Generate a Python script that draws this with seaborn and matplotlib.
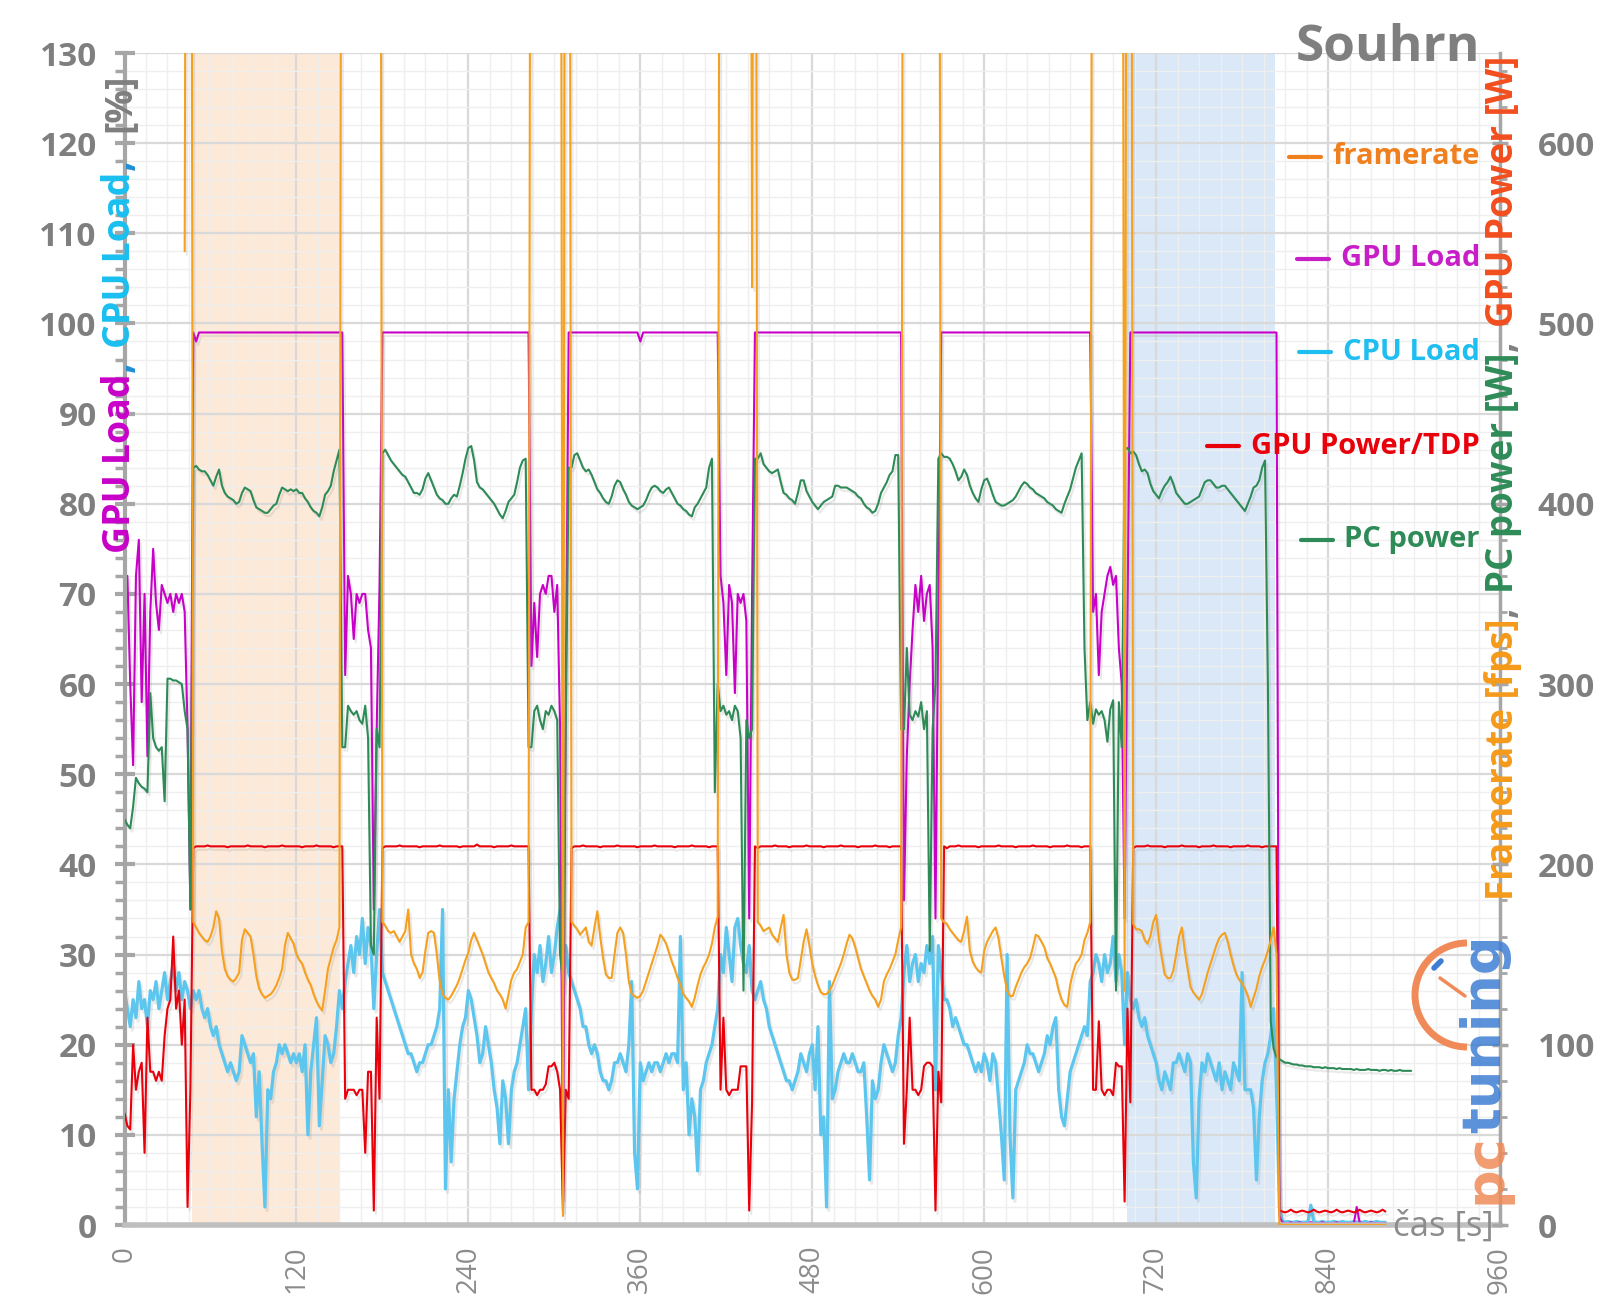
import numpy as np
import matplotlib
matplotlib.use("Agg")
import matplotlib.pyplot as plt
import seaborn as sns
from matplotlib.transforms import IdentityTransform
from matplotlib.lines import Line2D
from matplotlib.patches import Arc
import matplotlib.patheffects as pe

nan = np.nan
STEP = 2  # seconds between samples
# start time of each segment: pre, run1, gap1, run2, gap2, run3, gap3, run4, gap4, run5, gap5, run6, idle
SEG_START = [0, 48, 152, 180, 284, 312, 416, 442, 544, 574, 676, 704, 806]

# ---------------- GPU Load [%] ----------------
gpu_pre = [66, 72, 60, 51, 72, 76, 58, 70, 52, 68, 75, 69, 66, 71, 70, 69, 70, 68, 70, 69, 70, 68, 55, 35]
gpu_r1 = [99, 98, 99, 99, 99, 99, 99, 99, 99, 99, 99, 99, 99, 99, 99, 99, 99, 99, 99, 99, 99, 99, 99, 99, 99, 99,
          99, 99, 99, 99, 99, 99, 99, 99, 99, 99, 99, 99, 99, 99, 99, 99, 99, 99, 99, 99, 99, 99, 99, 99, 99, 99]
gpu_g1 = [99, 61, 72, 70, 65, 70, 69, 70, 70, 66, 64, 35, 55, 71]
gpu_r2 = [99, 99, 99, 99, 99, 99, 99, 99, 99, 99, 99, 99, 99, 99, 99, 99, 99, 99, 99, 99, 99, 99, 99, 99, 99, 99,
          99, 99, 99, 99, 99, 99, 99, 99, 99, 99, 99, 99, 99, 99, 99, 99, 99, 99, 99, 99, 99, 99, 99, 99, 99, 99]
gpu_g2 = [62, 69, 63, 70, 71, 70, 72, 72, 68, 71, 55, 3, 60, 99]
gpu_r3 = [99, 99, 99, 99, 99, 99, 99, 99, 99, 99, 99, 99, 99, 99, 99, 99, 99, 99, 99, 99, 99, 99, 99, 99, 98, 99,
          99, 99, 99, 99, 99, 99, 99, 99, 99, 99, 99, 99, 99, 99, 99, 99, 99, 99, 99, 99, 99, 99, 99, 99, 99, 99]
gpu_g3 = [72, 69, 61, 71, 69, 59, 70, 69, 70, 67, 34, 70, 99]
gpu_r4 = [99, 99, 99, 99, 99, 99, 99, 99, 99, 99, 99, 99, 99, 99, 99, 99, 99, 99, 99, 99, 99, 99, 99, 99, 99, 99,
          99, 99, 99, 99, 99, 99, 99, 99, 99, 99, 99, 99, 99, 99, 99, 99, 99, 99, 99, 99, 99, 99, 99, 99, 99]
gpu_g4 = [36, 52, 60, 66, 71, 68, 72, 67, 70, 71, 64, 34, 68, 99, 99]
gpu_r5 = [99, 99, 99, 99, 99, 99, 99, 99, 99, 99, 99, 99, 99, 99, 99, 99, 99, 99, 99, 99, 99, 99, 99, 99, 99, 99,
          99, 99, 99, 99, 99, 99, 99, 99, 99, 99, 99, 99, 99, 99, 99, 99, 99, 99, 99, 99, 99, 99, 99, 99, 99]
gpu_g5 = [68, 70, 61, 68, 70, 72, 73, 71, 72, 64, 60, 34, 68, 99]
gpu_r6 = [99, 99, 99, 99, 99, 99, 99, 99, 99, 99, 99, 99, 99, 99, 99, 99, 99, 99, 99, 99, 99, 99, 99, 99, 99, 99,
          99, 99, 99, 99, 99, 99, 99, 99, 99, 99, 99, 99, 99, 99, 99, 99, 99, 99, 99, 99, 99, 99, 99, 99, 99]
gpu_idle = [1, 0.3, 0.2, 0.2, 0.3, 0.2, 0.2, 0.3, 0.2, 0.2, 0.2, 0.3, 0.2, 0.2, 0.2, 0.3, 0.2, 0.2, 0.2, 0.2,
            0.3, 0.2, 0.2, 0.2, 0.2, 0.2, 0.2, 2.0, 0.3, 0.2, 0.2, 0.2, 0.3, 0.2, 0.2, 0.2, 0.2, 0.2]

# ---------------- CPU Load [%] ----------------
cpu_pre = [26, 24, 22, 25, 23, 27, 24, 25, 22, 26, 25, 27, 24, 26, 28, 25, 27, 29, 26, 28, 25, 27, 26, 24]
cpu_r1 = [26, 25, 26, 24, 23, 24, 22, 21, 22, 20, 19, 18, 17, 18, 17, 16, 17, 21, 20, 19,
          18, 19, 12, 17, 9, 2, 15, 14, 17, 18, 20, 19, 20, 19, 18, 19, 18, 19, 17, 20,
          10, 17, 20, 23, 11, 16, 21, 20, 18, 19, 22, 26]
cpu_g1 = [24, 27, 29, 31, 28, 32, 30, 34, 29, 33, 31, 24, 30, 35]
cpu_r2 = [28, 27, 26, 25, 24, 23, 22, 21, 20, 19, 19, 18, 17, 18, 18, 19, 20, 20, 21, 22,
          24, 35, 4, 15, 7, 14, 17, 20, 22, 23, 26, 25, 23, 21, 18, 19, 22, 20, 18, 15,
          13, 9, 16, 14, 9, 15, 17, 18, 20, 22, 24, 15]
cpu_g2 = [24, 30, 28, 31, 27, 29, 32, 28, 30, 33, 35, 26, 31, 28]
cpu_r3 = [27, 26, 25, 24, 22, 22, 20, 19, 20, 19, 17, 16, 16, 15, 16, 18, 18, 19, 18, 17,
          20, 27, 8, 4, 18, 16, 17, 18, 17, 18, 18, 17, 18, 19, 18, 19, 19, 18, 32, 15,
          18, 10, 14, 12, 6, 15, 16, 18, 19, 20, 22, 24]
cpu_g3 = [30, 28, 33, 30, 27, 33, 34, 31, 29, 28, 31, 26, 25]
cpu_r4 = [26, 27, 25, 24, 22, 21, 20, 19, 18, 17, 16, 16, 15, 16, 17, 19, 18, 17, 19, 20,
          15, 22, 10, 12, 2, 27, 14, 15, 17, 18, 19, 18, 18, 19, 18, 17, 17, 18, 12, 5,
          16, 14, 15, 18, 20, 19, 18, 17, 18, 21, 23]
cpu_g4 = [28, 31, 27, 29, 30, 27, 29, 28, 31, 29, 32, 15, 31, 28, 25]
cpu_r5 = [25, 24, 22, 23, 22, 21, 20, 20, 19, 18, 17, 18, 17, 19, 18, 16, 19, 18, 14, 10,
          5, 30, 10, 3, 15, 16, 17, 18, 20, 19, 19, 18, 17, 18, 19, 21, 20, 22, 23, 15,
          12, 11, 14, 17, 18, 19, 20, 21, 22, 21, 27]
cpu_g5 = [28, 30, 29, 27, 30, 28, 29, 32, 27, 30, 28, 20, 28, 25]
cpu_r6 = [24, 25, 23, 22, 23, 21, 20, 19, 18, 16, 15, 17, 16, 15, 18, 18, 19, 18, 17, 19,
          18, 7, 3, 14, 18, 17, 19, 18, 17, 16, 18, 15, 17, 16, 15, 18, 17, 16, 28, 15,
          15, 15, 13, 5, 12, 16, 18, 19, 21, 24, 15]
cpu_idle = [2, 0.5, 0.3, 0.4, 0.3, 0.3, 0.4, 0.3, 0.3, 0.3, 0.4, 2.2, 0.4, 0.3, 0.3, 0.4, 0.3, 0.3, 0.3, 0.4,
            0.3, 0.3, 0.4, 0.3, 0.3, 0.3, 0.4, 0.3, 0.3, 0.3, 0.4, 0.3, 0.3, 0.3, 0.4, 0.3, 0.3, 0.3]

# ---------------- GPU Power [W] ----------------
gpw_pre = [62, 55, 53, 100, 75, 85, 90, 40, 115, 85, 85, 80, 85, 80, 105, 120, 125, 160, 120, 130, 100, 125, 10, 75]
gpw_r1 = [209, 210, 210, 210, 210, 210.5, 210, 210, 210, 210, 210, 210, 209.5, 210, 210, 210, 210, 210, 210, 210.5,
          210, 210, 210, 210, 210, 209.5, 210, 210, 210, 210, 210, 210.5, 210, 210, 210, 210, 210, 210, 209.5, 210,
          210, 210, 210, 210.5, 210, 210, 210, 210, 210, 209.5, 210, 210]
gpw_g1 = [210, 70, 75, 75, 75, 72, 75, 75, 40, 85, 85, 8, 115, 70]
gpw_r2 = [209, 210, 210, 210, 210, 210, 210.5, 210, 210, 210, 210, 210, 210, 209.5, 210, 210, 210, 210, 210, 210,
          210.5, 210, 210, 210, 210, 210, 210, 209.5, 210, 210, 210, 210, 210, 211, 210, 210, 210, 210, 210, 209.5,
          210, 210, 210, 210, 210, 210.5, 210, 210, 210, 210, 210, 210]
gpw_g2 = [75, 75, 72, 75, 75, 78, 88, 88, 90, 85, 75, 8, 75, 70]
gpw_r3 = [209, 210, 210, 210, 210.5, 210, 210, 210, 210, 210, 209.5, 210, 210, 210, 210, 210, 210.5, 210, 210, 210,
          210, 210, 210, 209.5, 210, 210, 210, 210, 210, 210.5, 210, 210, 210, 210, 210, 210, 209.5, 210, 210, 210,
          210, 210, 210.5, 210, 210, 210, 210, 210, 209.5, 210, 210, 210]
gpw_g3 = [75, 115, 75, 72, 75, 75, 75, 88, 88, 88, 8, 68, 210]
gpw_r4 = [209, 210, 210, 210, 210, 210, 210.5, 210, 210, 210, 210, 209.5, 210, 210, 210, 210, 210, 210.5, 210, 210,
          210, 210, 210, 209.5, 210, 210, 210, 210, 210, 210.5, 210, 210, 210, 210, 210, 209.5, 210, 210, 210, 210,
          210, 210.5, 210, 210, 210, 210, 209.5, 210, 210, 210, 210]
gpw_g4 = [45, 75, 115, 75, 75, 72, 75, 88, 90, 90, 88, 8, 85, 68, 210]
gpw_r5 = [209, 210, 210, 210, 210.5, 210, 210, 210, 210, 210, 210, 209.5, 210, 210, 210, 210, 210, 210, 210.5, 210,
          210, 210, 210, 210, 209.5, 210, 210, 210, 210, 210, 210.5, 210, 210, 210, 210, 210, 209.5, 210, 210, 210,
          210, 210, 210.5, 210, 210, 210, 210, 209.5, 210, 210, 210]
gpw_g5 = [75, 75, 113, 75, 72, 75, 75, 72, 90, 88, 88, 13, 120, 68]
gpw_r6 = [209, 210, 210, 210, 210, 210.5, 210, 210, 210, 210, 210, 209.5, 210, 210, 210, 210, 210, 210.5, 210, 210,
          210, 210, 210, 209.5, 210, 210, 210, 210, 210.5, 210, 210, 210, 210, 210, 209.5, 210, 210, 210, 210, 210,
          210.5, 210, 210, 210, 210, 209.5, 210, 210, 210, 210, 210]
gpw_idle = [8, 7.5, 7, 7.5, 8.5, 7.5, 7, 7.5, 8, 7.5, 7, 7.5, 8.5, 7.5, 7, 7.5, 8, 7.5, 7, 7.5,
            8.5, 7.5, 7, 7.5, 8, 7.5, 7, 7.5, 8.5, 7.5, 7, 7.5, 8, 7.5, 7, 7.5, 8.5, 7.5]

# ---------------- PC power [W] ----------------
pc_pre = [225, 222, 220, 232, 248, 245, 243, 242, 240, 295, 270, 265, 263, 265, 235, 303, 303, 302, 302, 301,
          300, 285, 275, 175]
pc_r1 = [420, 421, 419, 418, 418, 416, 413, 410, 415, 419, 410, 406, 404, 403, 402, 400, 401, 406, 409, 408,
         407, 402, 398, 397, 396, 395, 395, 397, 399, 400, 405, 409, 408, 407, 408, 407, 408, 406, 406, 403,
         401, 398, 396, 395, 393, 398, 405, 407, 410, 418, 424, 430]
pc_g1 = [265, 265, 288, 285, 283, 285, 280, 278, 288, 270, 155, 150, 275, 265]
pc_r2 = [428, 430, 427, 424, 422, 420, 418, 416, 415, 412, 409, 406, 406, 405, 408, 414, 417, 413, 409, 405,
         403, 402, 400, 400, 403, 405, 404, 410, 417, 425, 431, 432, 424, 412, 409, 408, 406, 404, 402, 400,
         397, 394, 392, 396, 401, 403, 405, 412, 420, 424, 425, 265]
pc_g2 = [265, 285, 288, 280, 275, 285, 283, 288, 285, 280, 150, 135, 280, 420]
pc_r3 = [420, 427, 428, 424, 420, 418, 419, 416, 412, 408, 406, 403, 401, 400, 404, 410, 413, 412, 408, 405,
         401, 399, 398, 397, 398, 399, 402, 406, 409, 410, 409, 407, 406, 408, 409, 406, 403, 400, 399, 397,
         396, 394, 393, 398, 400, 403, 406, 409, 420, 425, 240, 300]
pc_g3 = [285, 288, 283, 285, 280, 288, 285, 270, 130, 280, 270, 275, 425]
pc_r4 = [425, 428, 422, 420, 418, 417, 418, 419, 412, 406, 405, 403, 402, 400, 406, 413, 413, 407, 404, 401,
         399, 397, 399, 401, 402, 403, 404, 410, 410, 409, 409, 409, 408, 407, 406, 404, 403, 400, 398, 397,
         395, 396, 400, 406, 409, 412, 416, 418, 427, 427, 275]
pc_g4 = [275, 320, 283, 280, 285, 282, 290, 275, 285, 152, 275, 300, 425, 428, 426]
pc_r5 = [426, 425, 422, 418, 413, 415, 419, 416, 410, 406, 403, 401, 408, 413, 414, 410, 405, 401, 400, 399,
         399, 400, 401, 402, 404, 407, 410, 412, 411, 409, 408, 406, 405, 404, 403, 401, 400, 399, 397, 396,
         395, 400, 404, 408, 414, 420, 424, 428, 320, 280, 290]
pc_g5 = [278, 286, 283, 285, 280, 268, 286, 291, 130, 290, 265, 430, 431, 428]
pc_r6 = [429, 427, 422, 418, 419, 417, 411, 407, 405, 403, 407, 410, 412, 415, 411, 406, 404, 402, 400, 400,
         401, 402, 403, 404, 408, 412, 413, 413, 411, 409, 409, 410, 410, 408, 406, 404, 402, 400, 398, 396,
         400, 404, 409, 410, 413, 420, 424, 300, 113, 98, 93]
pc_idle = [92, 91, 90, 90, 89.5, 89, 89, 88.5, 88.5, 88, 88, 88, 87.5, 87.5, 87.5, 87, 87.5, 87, 87, 87,
           86.5, 87, 86.5, 86.5, 86.5, 86.5, 86, 86.5, 86, 86, 86, 86.5, 86, 86, 86, 85.5, 86, 86, 85.5, 86,
           85.5, 85.5, 86, 85.5, 85.5, 85.5, 85.5]

# ---------------- Framerate [fps] ----------------
fps_pre = [nan, nan, nan, nan, nan, nan, nan, nan, nan, nan, nan, nan, nan, nan, nan, nan, nan, nan, nan, nan,
           nan, 540, 1200, 1200]
fps_r1 = [168, 165, 162, 160, 158, 157, 160, 165, 174, 170, 152, 142, 138, 136, 135, 137, 140, 158, 164, 162,
          160, 150, 138, 131, 128, 126, 127, 128, 130, 133, 137, 142, 155, 162, 159, 156, 150, 147, 145, 140,
          136, 133, 128, 124, 121, 119, 130, 142, 148, 154, 158, 165]
fps_g1 = [1200, 1200, 1200, 1200, 1200, 1200, 1200, 1200, 1200, 1200, 1200, 1200, 1200, 1200]
fps_r2 = [168, 166, 163, 162, 163, 160, 157, 160, 163, 175, 150, 145, 142, 137, 140, 152, 162, 163, 162, 150,
          135, 128, 126, 125, 127, 130, 133, 137, 142, 147, 151, 158, 162, 158, 154, 150, 145, 140, 137, 134,
          130, 128, 125, 120, 128, 136, 140, 142, 146, 150, 165, 168]
fps_g2 = [1200, 1200, 1200, 1200, 1200, 1200, 1200, 1200, 1200, 1200, 1200, 5, 1200, 1200]
fps_r3 = [168, 166, 164, 161, 163, 165, 157, 155, 165, 174, 160, 148, 139, 137, 137, 150, 162, 165, 162, 150,
          135, 128, 127, 126, 127, 130, 135, 140, 145, 150, 155, 161, 159, 156, 151, 146, 142, 137, 133, 128,
          126, 124, 121, 126, 133, 139, 143, 146, 150, 156, 165, 171]
fps_g3 = [1200, 1200, 1200, 1200, 1200, 1200, 1200, 1200, 1200, 1200, 1200, 520, 1200]
fps_r4 = [168, 166, 163, 164, 165, 161, 159, 157, 165, 172, 150, 140, 136, 136, 137, 147, 157, 164, 155, 145,
          138, 133, 129, 128, 128, 130, 133, 137, 141, 145, 150, 156, 161, 159, 154, 148, 142, 138, 134, 130,
          127, 125, 121, 125, 135, 139, 142, 146, 150, 158, 165]
fps_g4 = [1200, 1200, 1200, 1200, 1200, 1200, 1200, 1200, 1200, 1200, 1200, 1200, 1200, 170, 168]
fps_r5 = [167, 164, 162, 160, 158, 157, 163, 171, 152, 146, 143, 141, 140, 152, 157, 160, 163, 165, 159, 148,
          138, 130, 127, 127, 132, 136, 140, 143, 145, 148, 154, 161, 160, 157, 154, 148, 145, 141, 137, 130,
          125, 122, 121, 133, 140, 145, 147, 150, 158, 162, 168]
fps_g5 = [1200, 1200, 1200, 1200, 1200, 1200, 1200, 1200, 1200, 1200, 1200, 130, 1200, 1200]
fps_r6 = [167, 164, 164, 163, 158, 156, 160, 168, 172, 158, 148, 139, 137, 137, 141, 150, 160, 165, 152, 142,
          132, 129, 127, 125, 128, 134, 140, 145, 150, 155, 159, 161, 162, 157, 150, 144, 139, 136, 134, 131,
          127, 121, 126, 131, 138, 143, 147, 152, 158, 165, 150]
fps_idle = [0, 0, 0, 0, 0, 0, 0, 0, 0, 0, 0, 0, 0, 0, 0, 0, 0, 0, 0, 0,
            0, 0, 0, 0, 0, 0, 0, 0, 0, 0, 0, 0, 0, 0, 0, 0, 0, 0]

# highlighted intervals [s]
span_orange = (47, 150)
span_blue = (700, 803)

x_ticks = [0, 120, 240, 360, 480, 600, 720, 840, 960]
left_ticks = [0, 10, 20, 30, 40, 50, 60, 70, 80, 90, 100, 110, 120, 130]
right_ticks = [0, 100, 200, 300, 400, 500, 600]


def build(segs):
    t, v = [], []
    for s0, seg in zip(SEG_START, segs):
        for i, val in enumerate(seg):
            t.append(s0 + STEP * i)
            v.append(val)
    return np.array(t, float), np.array(v, float)


gpu = build([gpu_pre, gpu_r1, gpu_g1, gpu_r2, gpu_g2, gpu_r3, gpu_g3, gpu_r4, gpu_g4, gpu_r5, gpu_g5, gpu_r6, gpu_idle])
cpu = build([cpu_pre, cpu_r1, cpu_g1, cpu_r2, cpu_g2, cpu_r3, cpu_g3, cpu_r4, cpu_g4, cpu_r5, cpu_g5, cpu_r6, cpu_idle])
gpw = build([gpw_pre, gpw_r1, gpw_g1, gpw_r2, gpw_g2, gpw_r3, gpw_g3, gpw_r4, gpw_g4, gpw_r5, gpw_g5, gpw_r6, gpw_idle])
pcw = build([pc_pre, pc_r1, pc_g1, pc_r2, pc_g2, pc_r3, pc_g3, pc_r4, pc_g4, pc_r5, pc_g5, pc_r6, pc_idle])
fps = build([fps_pre, fps_r1, fps_g1, fps_r2, fps_g2, fps_r3, fps_g3, fps_r4, fps_g4, fps_r5, fps_g5, fps_r6, fps_idle])

sns.set_style("white")
plt.rcParams['font.family'] = ['Open Sans', 'DejaVu Sans']

W, H = 1600, 1313
fig = plt.figure(figsize=(W / 100, H / 100), dpi=100)
ax = fig.add_axes([124.5 / W, (H - 1225) / H, (1500 - 124.5) / W, (1225 - 53) / H])
ax2 = ax.twinx()

C_FPS = '#F5A01E'
C_GPU = '#C800C8'
C_CPU = '#5CC6EE'
C_GPW = '#E8000B'
C_PC = '#2E8B57'

shadow = [pe.SimpleLineShadow(offset=(1.5, -2.5), shadow_color='#888888', alpha=0.18), pe.Normal()]


def draw(axis, series, color, lw):
    t, v = series
    m = ~np.isnan(v)
    sns.lineplot(x=t[m], y=v[m], ax=axis, color=color, lw=lw, estimator=None, sort=False, legend=False)
    axis.lines[-1].set_path_effects(shadow)


ax.axvspan(*span_orange, color='#FCE9D8', lw=0, zorder=0.2)
ax.axvspan(*span_blue, color='#DAE8F8', lw=0, zorder=0.2)

draw(ax, cpu, C_CPU, 2.3)
draw(ax, gpu, C_GPU, 1.5)
draw(ax2, gpw, C_GPW, 1.5)
draw(ax2, pcw, C_PC, 1.5)
draw(ax2, fps, C_FPS, 1.5)

ax.set_xlim(0, 960)
ax.set_ylim(0, 130)
ax2.set_ylim(0, 650)
ax.set_xticks(x_ticks)
ax.set_xticks(np.arange(0, 961, 15), minor=True)
ax.set_yticks(left_ticks)
ax.set_yticks(np.arange(0, 131, 2), minor=True)
ax2.set_yticks(right_ticks)
ax2.set_yticks(np.arange(0, 651, 20), minor=True)

ax.set_axisbelow(True)
ax.grid(which='major', color='#D9D9D9', lw=1.6)
ax.grid(which='minor', color='#EFEFEF', lw=1.0)
ax2.grid(False)

for a in (ax, ax2):
    a.set_xlabel('')
    a.set_ylabel('')
for s in ['top', 'right']:
    ax.spines[s].set_visible(False)
for s in ['top', 'left', 'bottom']:
    ax2.spines[s].set_visible(False)
ax.spines['left'].set_color('#A6A6A6')
ax.spines['left'].set_linewidth(3)
ax.spines['bottom'].set_color('#BFBFBF')
ax.spines['bottom'].set_linewidth(4)
ax2.spines['right'].set_color('#A6A6A6')
ax2.spines['right'].set_linewidth(2.5)

ax.tick_params(axis='y', which='major', direction='inout', length=14, width=3, color='#A6A6A6',
               pad=13, labelsize=24, labelcolor='#7F7F7F')
ax.tick_params(axis='y', which='minor', direction='out', length=7, width=2.5, color='#A6A6A6')
ax.tick_params(axis='x', which='major', direction='out', length=6, width=2.5, color='#BFBFBF',
               pad=9, labelsize=20, labelcolor='#8C8C8C', labelrotation=90)
ax.tick_params(axis='x', which='minor', length=0)
ax2.tick_params(axis='y', which='major', direction='inout', length=12, width=2.5, color='#A6A6A6',
                pad=21, labelsize=24, labelcolor='#7F7F7F')
ax2.tick_params(axis='y', which='minor', direction='out', length=5, width=2, color='#A6A6A6')
for lbl in ax.get_yticklabels() + ax2.get_yticklabels():
    lbl.set_fontweight('bold')

renderer = fig.canvas.get_renderer()
ID = IdentityTransform()


def vlabel(pieces, x, y_img, size):
    y = H - y_img
    for text, color, gap in pieces:
        y += gap
        t = fig.text(x, y, text, transform=ID, rotation=90, rotation_mode='anchor', ha='left',
                     va='baseline', fontsize=size, fontweight='bold', color=color)
        y += t.get_window_extent(renderer).height


vlabel([("GPU Load", C_GPU, 0), (",", '#1E8FD6', 1), ("CPU Load", '#19BFF0', 14),
        (",", '#1E8FD6', 1), ("[%]", '#7F7F7F', 28)], 130, 553, 27)
vlabel([("Framerate [fps]", '#F59A1A', 0), (",", '#808080', 1), ("PC power [W]", C_PC, 14),
        (",", '#808080', 1), ("GPU Power [W]", '#F24E1E', 14)], 1513, 900, 26.5)

# legend-like labels
legend_items = [("framerate", '#F07F1E', 157), ("GPU Load", '#C81EC8', 259), ("CPU Load", '#1EBEF0', 352),
                ("GPU Power/TDP", '#E8000B', 446), ("PC power", C_PC, 540)]
for label, color, yi in legend_items:
    yd = H - yi
    t = fig.text(1480, yd, label, transform=ID, ha='right', va='center', fontsize=21,
                 fontweight='bold', color=color)
    x0 = t.get_window_extent(renderer).x0
    fig.add_artist(Line2D([x0 - 44, x0 - 12], [yd, yd], transform=ID, color=color, lw=3))

fig.text(1480, H - 48, "Souhrn", transform=ID, ha='right', va='center', fontsize=37,
         fontweight='bold', color='#7F7F7F')
fig.text(1494, H - 1227, "čas [s]", transform=ID, ha='right', va='center', fontsize=25, color='#8C8C8C')

# pctuning logo
lx, ly = 1500, H - 1204
t1 = fig.text(lx, ly, "pc", transform=ID, rotation=90, rotation_mode='anchor', ha='left', va='baseline',
              fontsize=39, fontweight='bold', color='#F08A58', family='DejaVu Sans', alpha=0.85)
ly += t1.get_window_extent(renderer).height
fig.text(lx, ly, "tuning", transform=ID, rotation=90, rotation_mode='anchor', ha='left', va='baseline',
         fontsize=39, fontweight='bold', color='#3D7ED3', family='DejaVu Sans', alpha=0.85)
fig.add_artist(Arc((1467, H - 995), 104, 104, theta1=90, theta2=270, transform=ID, color='#F08A58', lw=5))
fig.add_artist(Line2D([1440, 1465], [H - 978, H - 996], transform=ID, color='#F08A58', lw=2.5))
fig.add_artist(Line2D([1434, 1441], [H - 968, H - 961], transform=ID, color='#3D7ED3', lw=4))

fig.savefig('out.png', dpi=100)
